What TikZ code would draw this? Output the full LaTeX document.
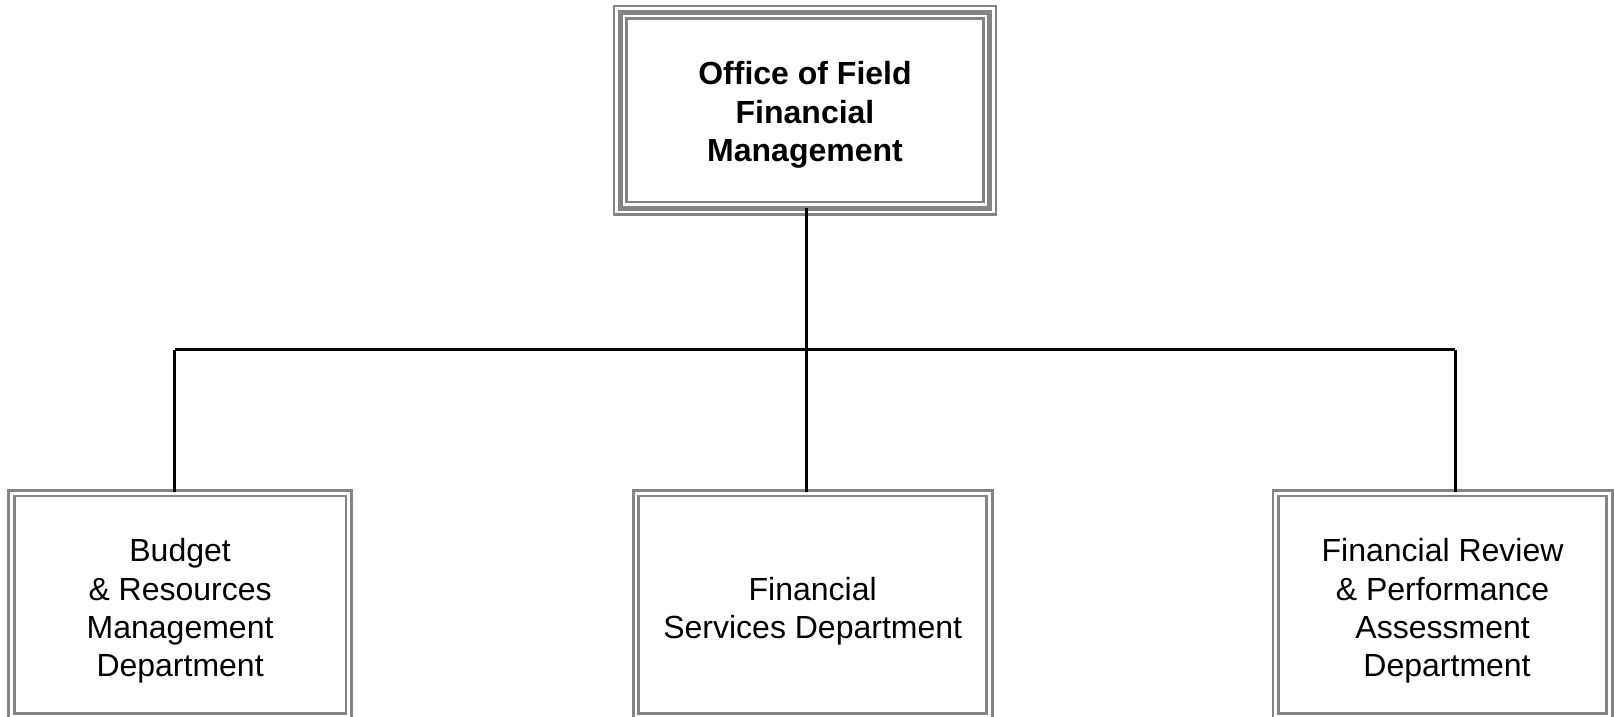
\documentclass[tikz,border=0pt]{standalone}
\usepackage{fontspec}
\setmainfont{Liberation Sans}
\definecolor{boxgray}{RGB}{132,132,132}
\begin{document}
\begin{tikzpicture}[x=1pt,y=1pt,
  lbl/.style={font=\fontsize{32}{38.3}\selectfont, align=center, text=black, inner sep=0pt},
  toplbl/.style={lbl, font=\fontsize{32}{38.5}\selectfont\bfseries},
  topbox/.style={inner sep=0pt},
  deptbox/.style={draw=boxgray, line width=2.7pt, double=white, double distance=2.8pt, inner sep=0pt},
  triple/.style={draw=boxgray, line width=2.6pt, double=white, double distance=10pt},
  thickline/.style={draw=boxgray, line width=5pt},
  conn/.style={draw=black, line width=3pt}]
\useasboundingbox (0,0) rectangle (1614,717);
% top box
\node[topbox, minimum width=369pt, minimum height=195.5pt] (top) at (805,606.75) {};
\draw[triple] (top.north west) rectangle (top.south east);
\draw[thickline] (top.north west) rectangle (top.south east);
\node[toplbl] (toptext) at ([yshift=-5pt]top.center) {Office of Field\\Financial\\Management};
% department boxes
\node[deptbox, minimum width=337.2pt, minimum height=223.1pt] (b1) at (180.1,112.05) {};
\node[deptbox, minimum width=353.6pt, minimum height=223.1pt] (b2) at (812.7,112.05) {};
\node[deptbox, minimum width=333.8pt, minimum height=223.1pt] (b3) at (1442.6,112.05) {};
\node[lbl] (t1) at ([yshift=-6pt]b1.center) {Budget\\\& Resources\\Management\\Department};
\node[lbl] (t2) at ([yshift=-6pt]b2.center) {Financial\\Services Department};
\node[lbl] (t3) at ([yshift=-6pt]b3.center) {Financial Review\\\& Performance\\Assessment\\\ Department};
% connectors
\coordinate (j) at (806.5,367);
\coordinate (jl) at (174.5,367);
\coordinate (jr) at (1455,367);
\draw[conn] (j |- top.south) -- (j);
\draw[conn] (jl) -- (jr);
\draw[conn] (jl) -- (jl |- b1.north);
\draw[conn] (j) -- (j |- b2.north);
\draw[conn] (jr) -- (jr |- b3.north);
\end{tikzpicture}
\end{document}
